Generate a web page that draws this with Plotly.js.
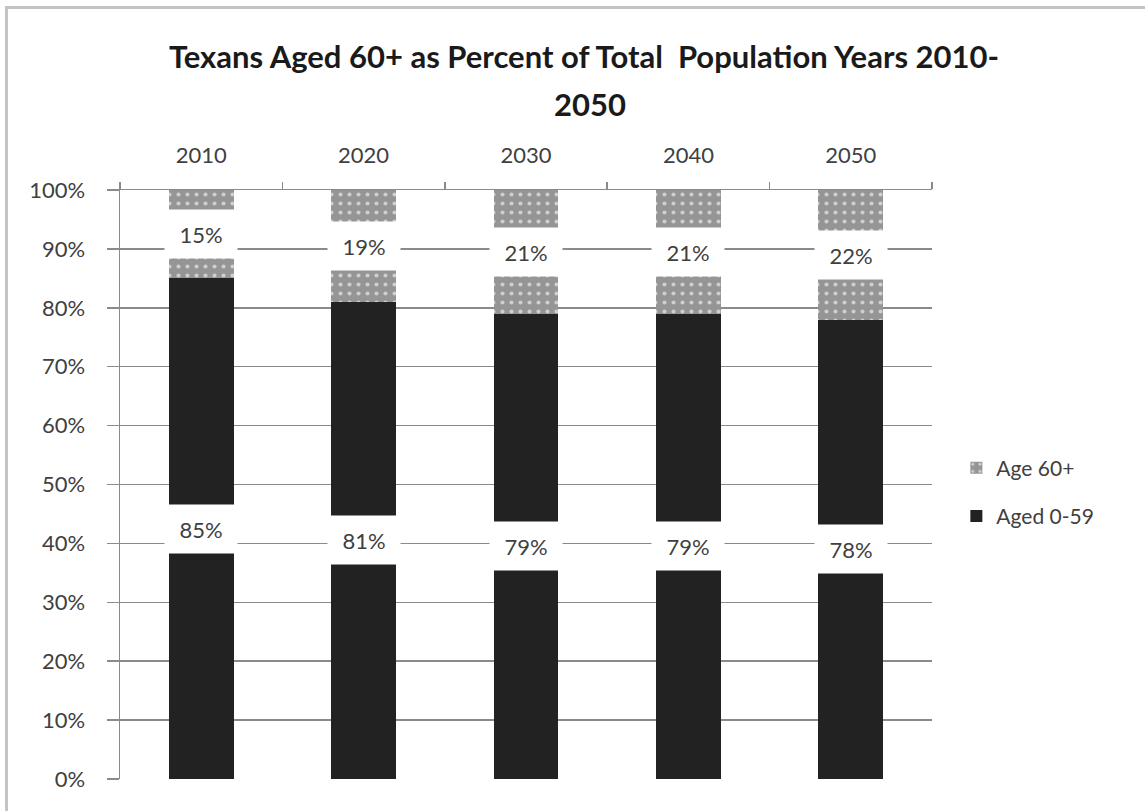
<!DOCTYPE html>
<html>
<head>
<meta charset="utf-8">
<script src="https://cdn.plot.ly/plotly-3.0.1.min.js"></script>
<style>
  html, body { margin: 0; padding: 0; background: #ffffff; }
  #wrap { position: relative; width: 1145px; height: 811px; overflow: hidden; }
  #frame { position: absolute; left: 5px; top: 6px; width: 1150px; height: 812px;
           border-left: 3px solid #c4c4c4; border-top: 3px solid #c4c4c4; box-sizing: border-box; pointer-events: none; z-index: 5; }
  #chart { position: absolute; left: 0; top: 0; width: 1145px; height: 811px; }
</style>
</head>
<body>
<div id="wrap">
  <div id="chart"></div>
  <div id="frame"></div>
</div>
<script>
const years = ['2010', '2020', '2030', '2040', '2050'];
const aged0to59 = [85, 81, 79, 79, 78];
const age60plus = [15, 19, 21, 21, 22];
const yTickVals = [0, 10, 20, 30, 40, 50, 60, 70, 80, 90, 100];
const yTickText = ['0%', '10%', '20%', '30%', '40%', '50%', '60%', '70%', '80%', '90%', '100%'];

const FONT = 'Lato, "Open Sans", sans-serif';
const TXT = '#404040';

const traces = [
  {
    type: 'bar', name: 'Aged 0-59', x: years, y: aged0to59,
    marker: { color: '#222222', line: { width: 0 } },
    width: 0.4, legendgroup: 'a', legendrank: 2, hoverinfo: 'skip'
  },
  {
    type: 'bar', name: 'Age 60+', x: years, y: age60plus,
    marker: { color: '#959595', line: { width: 0 },
      pattern: { shape: '.', bgcolor: '#959595', fgcolor: '#cfcfcf', size: 9, solidity: 0.16 } },
    width: 0.4, legendgroup: 'b', legendrank: 1, hoverinfo: 'skip'
  }
];

const annotations = [];
years.forEach((yr, i) => {
  annotations.push({
    x: i, y: aged0to59[i] / 2, xref: 'x', yref: 'y',
    text: aged0to59[i] + '%', showarrow: false,
    bgcolor: '#ffffff', width: 70, height: 46,
    font: { family: FONT, size: 22, color: TXT }
  });
  annotations.push({
    x: i, y: aged0to59[i] + age60plus[i] / 2, xref: 'x', yref: 'y',
    text: age60plus[i] + '%', showarrow: false,
    bgcolor: '#ffffff', width: 70, height: 46,
    font: { family: FONT, size: 22, color: TXT }
  });
});
annotations.push({
  xref: 'paper', yref: 'paper', x: (590 - 120) / 812, y: (779 - 104) / 589,
  xanchor: 'center', yanchor: 'middle',
  text: '<b>2050</b>', showarrow: false,
  font: { family: FONT, size: 31, color: '#1a1a1a' }
});

const layout = {
  width: 1145, height: 811,
  paper_bgcolor: '#ffffff', plot_bgcolor: '#ffffff',
  margin: { l: 120, r: 213, t: 190, b: 32 },
  font: { family: FONT, size: 22, color: TXT },
  title: {
    text: '<b>Texans Aged 60+ as Percent of Total  Population Years 2010-</b>',
    x: 584 / 1145, xanchor: 'center', y: 1 - 57 / 811, yanchor: 'middle', yref: 'container',
    font: { family: FONT, size: 31, color: '#1a1a1a' }
  },
  barmode: 'stack',
  xaxis: {
    type: 'category', side: 'top', range: [-0.5, 4.5], fixedrange: true,
    showline: true, linecolor: '#8a8a8a', linewidth: 1.5,
    ticks: 'outside', tickson: 'boundaries', ticklen: 7, tickcolor: '#8a8a8a', tickwidth: 1.5,
    showgrid: false, ticklabelstandoff: 17,
    tickfont: { family: FONT, size: 22, color: TXT }
  },
  yaxis: {
    range: [0, 100], tickvals: yTickVals, ticktext: yTickText, fixedrange: true,
    showline: true, linecolor: '#8a8a8a', linewidth: 1.5,
    ticks: 'outside', ticklen: 12, tickcolor: '#8a8a8a', tickwidth: 1.5,
    showgrid: true, gridcolor: '#8a8a8a', gridwidth: 1.5,
    zeroline: false, ticklabelstandoff: 17,
    tickfont: { family: FONT, size: 22, color: TXT }
  },
  legend: {
    x: 1.03, xanchor: 'left', y: 0.487, yanchor: 'middle',
    traceorder: 'grouped', tracegroupgap: 18,
    font: { family: FONT, size: 21, color: TXT },
    itemwidth: 30
  },
  annotations: annotations,
  showlegend: true
};

Plotly.newPlot('chart', traces, layout, { displayModeBar: false, staticPlot: true });
</script>
</body>
</html>
